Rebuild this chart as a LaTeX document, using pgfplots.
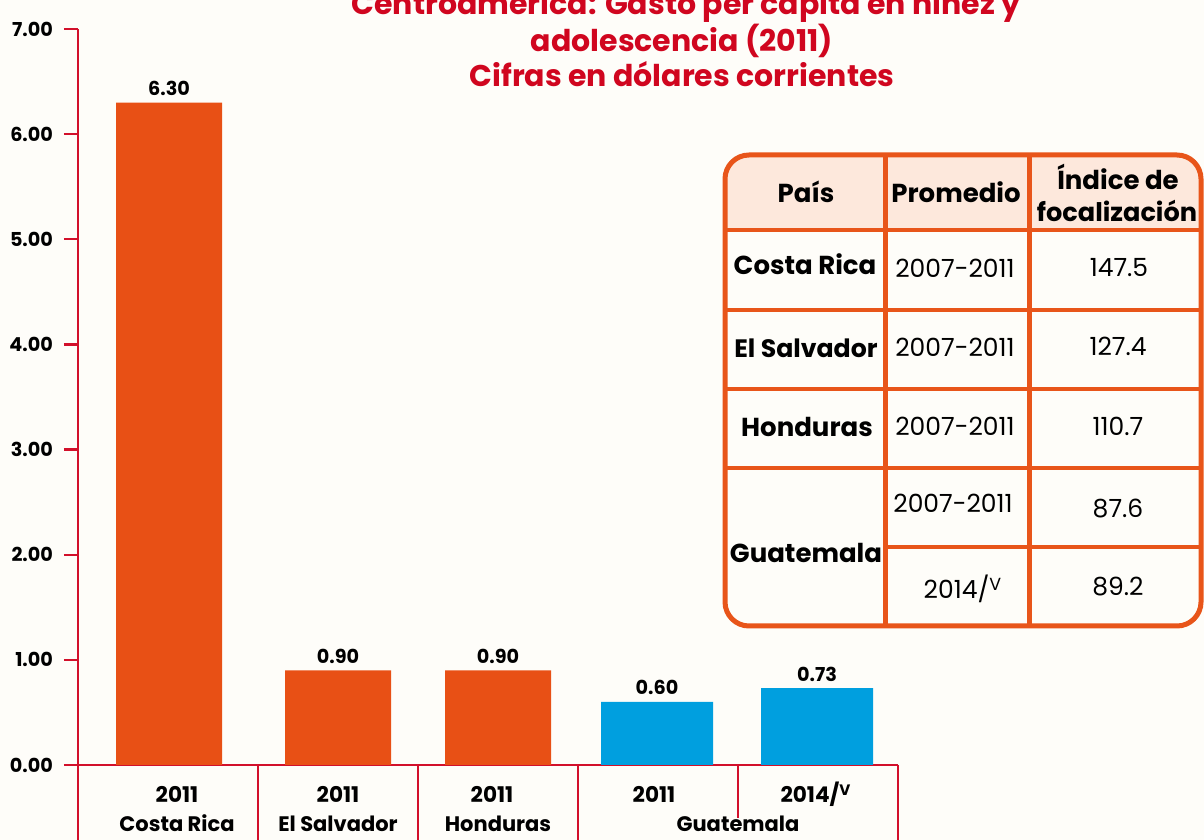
\documentclass[border=0pt]{standalone}
\usepackage{pgfplots}
\pgfplotsset{compat=1.18}
\usepackage{fontspec}
\setmainfont{Poppins}
\definecolor{barorange}{HTML}{E85015}
\definecolor{barblue}{HTML}{009FDF}
\definecolor{axred}{HTML}{D2102B}
\definecolor{titlered}{HTML}{D0061F}
\definecolor{tblorange}{HTML}{E8551A}
\definecolor{hdrfill}{HTML}{FDE8DC}
\definecolor{bg}{HTML}{FEFDF9}
\tikzset{
  seplab/.style={anchor=base, font=\bfseries\fontsize{10.8}{12}\selectfont, inner sep=0pt},
  ctylab/.style={anchor=base, font=\bfseries\fontsize{10.5}{12}\selectfont, inner sep=0pt},
  sepline/.style={axred, line width=1.1pt},
}
\begin{document}
\begin{tikzpicture}
\path[use as bounding box, fill=bg] (0,0) rectangle (602pt,420pt);
\begin{axis}[
  at={(39pt,37.5pt)}, anchor=south west, scale only axis,
  width=410pt, height=368pt,
  xmin=78, xmax=898, ymin=0, ymax=7,
  axis x line=bottom, axis y line=left,
  axis line style={-, axred, line width=1.3pt},
  xtick=\empty,
  ytick={0,1,2,3,4,5,6,7},
  tick align=outside,
  major tick length=7pt,
  tick style={axred, line width=1.1pt},
  yticklabel={\pgfmathprintnumber[fixed,fixed zerofill,precision=2,assume math mode=true]{\tick}},
  yticklabel style={font=\bfseries\fontsize{9.6}{11}\selectfont, text=black, xshift=-2pt},
  clip=false,
  nodes near coords={\pgfmathprintnumber[fixed,fixed zerofill,precision=2,assume math mode=true]{\pgfplotspointmeta}},
  nodes near coords style={font=\bfseries\fontsize{9.6}{11}\selectfont, text=black},
]
\addplot[ybar, bar shift=0pt, bar width=106, fill=barorange, draw=none] coordinates {(169,6.30) (338,0.90) (498,0.90)};
\addplot[ybar, bar shift=0pt, bar width=112, fill=barblue, draw=none] coordinates {(657,0.60) (817,0.73)};
% category separators
\draw[sepline] (axis cs:78,0) -- ++(0pt,-40pt);
\draw[sepline] (axis cs:258,0) -- ++(0pt,-40pt);
\draw[sepline] (axis cs:418,0) -- ++(0pt,-40pt);
\draw[sepline] (axis cs:578,0) -- ++(0pt,-40pt);
\draw[sepline] (axis cs:898,0) -- ++(0pt,-40pt);
\draw[sepline] (axis cs:738,0) -- ++(0pt,-26.5pt);
% labels
\node[seplab] at ([yshift=-19pt]axis cs:177,0) {2011};
\node[seplab] at ([yshift=-19pt]axis cs:338,0) {2011};
\node[seplab] at ([yshift=-19pt]axis cs:492,0) {2011};
\node[seplab] at ([yshift=-19pt]axis cs:654,0) {2011};
\node[seplab] at ([yshift=-19pt]axis cs:816,0) {2014/\textsuperscript{V}};
\node[ctylab] at ([yshift=-33.5pt]axis cs:177,0) {Costa Rica};
\node[ctylab] at ([yshift=-33.5pt]axis cs:338,0) {El Salvador};
\node[ctylab] at ([yshift=-33.5pt]axis cs:498,0) {Honduras};
\node[ctylab] at ([yshift=-33.5pt]axis cs:738,0) {Guatemala};
\end{axis}
% title and table in image pixel coordinates (y downwards)
\begin{scope}[x=0.5pt, y=-0.5pt, shift={(0,420pt)}]
  \begin{scope}[font=\bfseries\fontsize{15}{17.5}\selectfont, text=titlered]
    \node[anchor=base, inner sep=0pt] at (686,15) {Centroamérica: Gasto per cápita en niñez y};
    \node[anchor=base, inner sep=0pt] at (682,52) {adolescencia (2011)};
    \node[anchor=base, inner sep=0pt] at (682,87) {Cifras en dólares corrientes};
  \end{scope}
  \begin{scope}
    \clip[rounded corners=12pt] (725,155) rectangle (1201,626);
    \fill[hdrfill] (725,155) rectangle (1201,230);
  \end{scope}
  \draw[tblorange, line width=1.6pt] (725,230) -- (1201,230);
  \draw[tblorange, line width=1.6pt] (725,310) -- (1201,310);
  \draw[tblorange, line width=1.6pt] (725,389) -- (1201,389);
  \draw[tblorange, line width=1.6pt] (725,468) -- (1201,468);
  \draw[tblorange, line width=1.6pt] (885,547) -- (1201,547);
  \draw[tblorange, line width=2.5pt] (885,155) -- (885,626);
  \draw[tblorange, line width=2.5pt] (1029,155) -- (1029,626);
  \draw[tblorange, line width=2.5pt, rounded corners=12pt] (725,155) rectangle (1201,626);
  \begin{scope}[every node/.style={anchor=base, inner sep=0pt}]
    \node[font=\bfseries\fontsize{13}{15}\selectfont] at (806,203) {País};
    \node[font=\bfseries\fontsize{13}{15}\selectfont] at (956,203) {Promedio};
    \node[font=\bfseries\fontsize{13}{15}\selectfont] at (1118,190) {Índice de};
    \node[font=\bfseries\fontsize{12.8}{15}\selectfont] at (1117,222) {focalización};
    \node[font=\bfseries\fontsize{13}{15}\selectfont] at (805,275) {Costa Rica};
    \node[font=\bfseries\fontsize{12.6}{15}\selectfont] at (806,358) {El Salvador};
    \node[font=\bfseries\fontsize{13}{15}\selectfont] at (807,437) {Honduras};
    \node[font=\bfseries\fontsize{13}{15}\selectfont] at (806,563) {Guatemala};
    \node[font=\fontsize{12.5}{15}\selectfont] at (955,278) {2007-2011};
    \node[font=\fontsize{12.5}{15}\selectfont] at (955,357) {2007-2011};
    \node[font=\fontsize{12.5}{15}\selectfont] at (955,436) {2007-2011};
    \node[font=\fontsize{12.5}{15}\selectfont] at (953,513) {2007-2011};
    \node[font=\fontsize{12.5}{15}\selectfont] at (963,599) {2014/\textsuperscript{V}};
    \node[font=\fontsize{12.5}{15}\selectfont] at (1119,277) {147.5};
    \node[font=\fontsize{12.5}{15}\selectfont] at (1118,356) {127.4};
    \node[font=\fontsize{12.5}{15}\selectfont] at (1118,436) {110.7};
    \node[font=\fontsize{12.5}{15}\selectfont] at (1118,518) {87.6};
    \node[font=\fontsize{12.5}{15}\selectfont] at (1118,596) {89.2};
  \end{scope}
\end{scope}
\end{tikzpicture}
\end{document}
